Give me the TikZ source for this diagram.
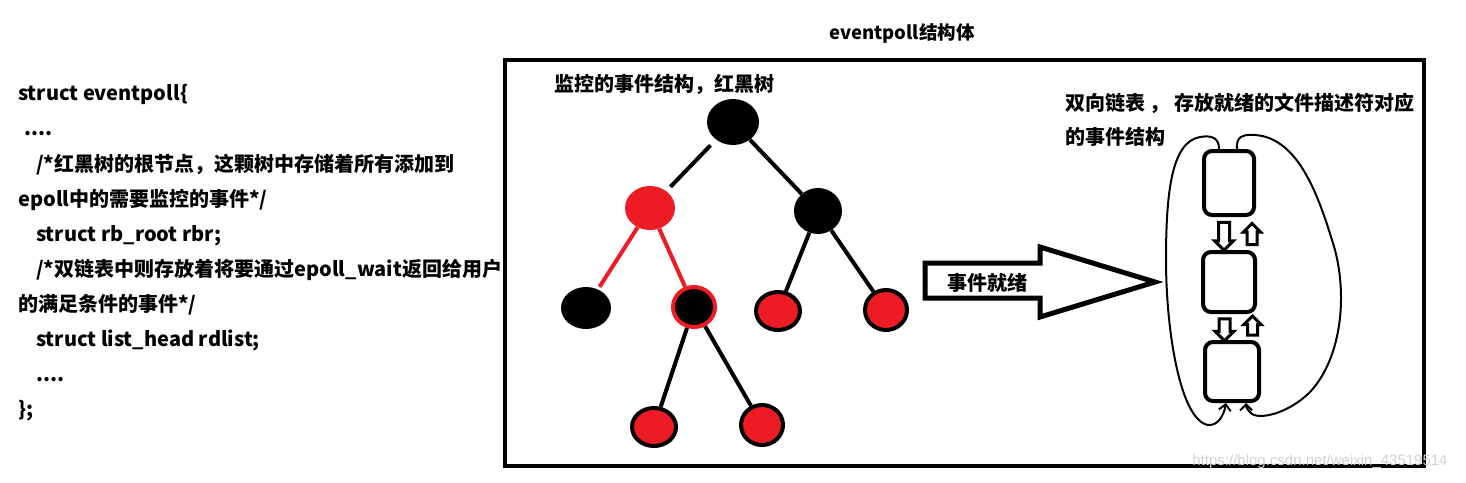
\documentclass[tikz,border=0pt]{standalone}
\usepackage{fontspec}
\setmainfont{Noto Sans CJK SC}
\newfontfamily\wmfont{Liberation Sans}
\usetikzlibrary{arrows.meta, positioning, shapes.geometric, shapes.arrows, calc}
\definecolor{pred}{HTML}{ED1C24}

\begin{document}
\begin{tikzpicture}[
  x=1pt, y=-1pt,
  txt/.style={font=\fontsize{20}{35.1}\selectfont\bfseries, inner sep=0pt},
  bnode/.style={ellipse, fill=black, inner sep=0pt},
  rnode/.style={ellipse, fill=pred, inner sep=0pt},
  rnodeb/.style={ellipse, draw=black, line width=4pt, fill=pred, inner sep=0pt},
  bnoder/.style={ellipse, draw=pred, line width=4pt, fill=black, inner sep=0pt},
  edge/.style={line width=4pt},
  redge/.style={line width=4pt, draw=pred},
  lbox/.style={draw, line width=4pt, rounded corners=8pt, minimum width=50pt},
  hollow/.style={single arrow, draw, line width=3pt, fill=white, inner xsep=0pt, inner ysep=4pt, single arrow head extend=4pt, single arrow tip angle=90, minimum height=#1},
  loopline/.style={line width=2pt, -{Straight Barb[length=6pt, width=12pt]}}
]
\useasboundingbox (0,0) rectangle (1466,482);

% left: struct text
\node[txt, anchor=west, align=left] (code) at (18,253) {struct eventpoll\{\\
\hspace*{6pt}....\\
\hspace*{18pt}/*红黑树的根节点，这颗树中存储着所有添加到\\
epoll中的需要监控的事件*/\\
\hspace*{18pt}struct rb\_root rbr;\\
\hspace*{18pt}/*双链表中则存放着将要通过epoll\_wait返回给用户\\
的满足条件的事件*/\\
\hspace*{18pt}struct list\_head rdlist;\\
\hspace*{18pt}....\\
\};};

% frame
\node[txt, font=\fontsize{18.5}{18.5}\selectfont\bfseries] (title) at (902,33) {eventpoll结构体};
\draw[line width=4.5pt] (505,60) rectangle (1424,466);

% red-black tree
\node[txt, anchor=west] (treelbl) at (554,84) {监控的事件结构，红黑树};
\node[bnode, minimum width=52pt, minimum height=46pt] (root) at (733,122) {};
\node[rnode, minimum width=50pt, minimum height=44pt] (lft) at (650,208) {};
\node[bnode, minimum width=48pt, minimum height=46pt] (rgt) at (818,211) {};
\node[bnode, minimum width=50pt, minimum height=42pt] (ll) at (586,308) {};
\node[bnoder, minimum width=42pt, minimum height=40pt] (lr) at (694,307) {};
\node[rnodeb, minimum width=44pt, minimum height=38pt] (rl) at (778,311) {};
\node[rnodeb, minimum width=42pt, minimum height=40pt] (rr) at (886,310) {};
\node[rnodeb, minimum width=44pt, minimum height=38pt] (lrl) at (654,427) {};
\node[rnodeb, minimum width=42pt, minimum height=40pt] (lrr) at (762,425) {};

\draw[edge, shorten <=8pt, shorten >=6pt] (root) -- (lft);
\draw[edge] (root) -- (rgt);
\draw[redge, shorten >=3pt] (lft) -- (ll);
\draw[redge] (lft) -- (lr);
\draw[edge] (rgt) -- (rl);
\draw[edge] (rgt) -- (rr);
\draw[edge] (lr) -- (lrl);
\draw[edge] (lr) -- (lrr);

% ready arrow
\draw[line width=5pt, line join=miter] (925,263) -- (1040,263) -- (1040,247) -- (1155,282) -- (1040,317) -- (1040,298) -- (925,298) -- cycle;
\node[txt] (ready) at (987,283) {事件就绪};

% ready list
\node[txt, anchor=west, align=left, font=\fontsize{20}{34}\selectfont\bfseries] (listlbl) at (1065,120) {双向链表 ， 存放就绪的文件描述符对应\\的事件结构};
\node[lbox, minimum height=64pt] (b1) at (1229,183) {};
\node[lbox, minimum height=60pt, minimum width=52pt] (b2) at (1229,282) {};
\node[lbox, minimum height=59pt, minimum width=54pt] (b3) at (1232,371.5) {};

\node[hollow=28pt, rotate=-90] (d12) at ($(b1.south)!.5!(b2.north)+(-5,0)$) {};
\node[hollow=21pt, rotate=90, inner ysep=3.5pt, single arrow head extend=3.5pt] (u21) at ($(b1.south)!.5!(b2.north)+(23,3)$) {};
\node[hollow=22pt, rotate=-90] (d23) at ($(b2.south)!.5!(b3.north)+(-6,0)$) {};
\node[hollow=19pt, rotate=90, inner ysep=3.5pt, single arrow head extend=3.5pt] (u32) at ($(b2.south)!.5!(b3.north)+(22,1)$) {};

\draw[loopline] ([xshift=-10pt]b1.north) .. controls (1219,138) and (1212,135) .. (1200,137) .. controls (1172,142) and (1166,190) .. (1166,260) .. controls (1166,330) and (1180,420) .. (1208,425) .. controls (1218,426) and (1224,415) .. ([xshift=-6pt]b3.south);
\draw[loopline] ([xshift=8pt]b1.north) .. controls (1236,137) and (1242,134) .. (1255,135) .. controls (1300,138) and (1320,200) .. (1335,250) .. controls (1348,300) and (1340,360) .. (1310,392) .. controls (1290,412) and (1262,420) .. (1252,414) .. controls (1248,411) and (1246,407) .. ([xshift=14pt]b3.south);

\node[font=\wmfont\fontsize{15}{15}\selectfont, text=black!18, inner sep=0pt] (mark) at (1320,462) {https://blog.csdn.net/weixin\_43519514};
\end{tikzpicture}
\end{document}
